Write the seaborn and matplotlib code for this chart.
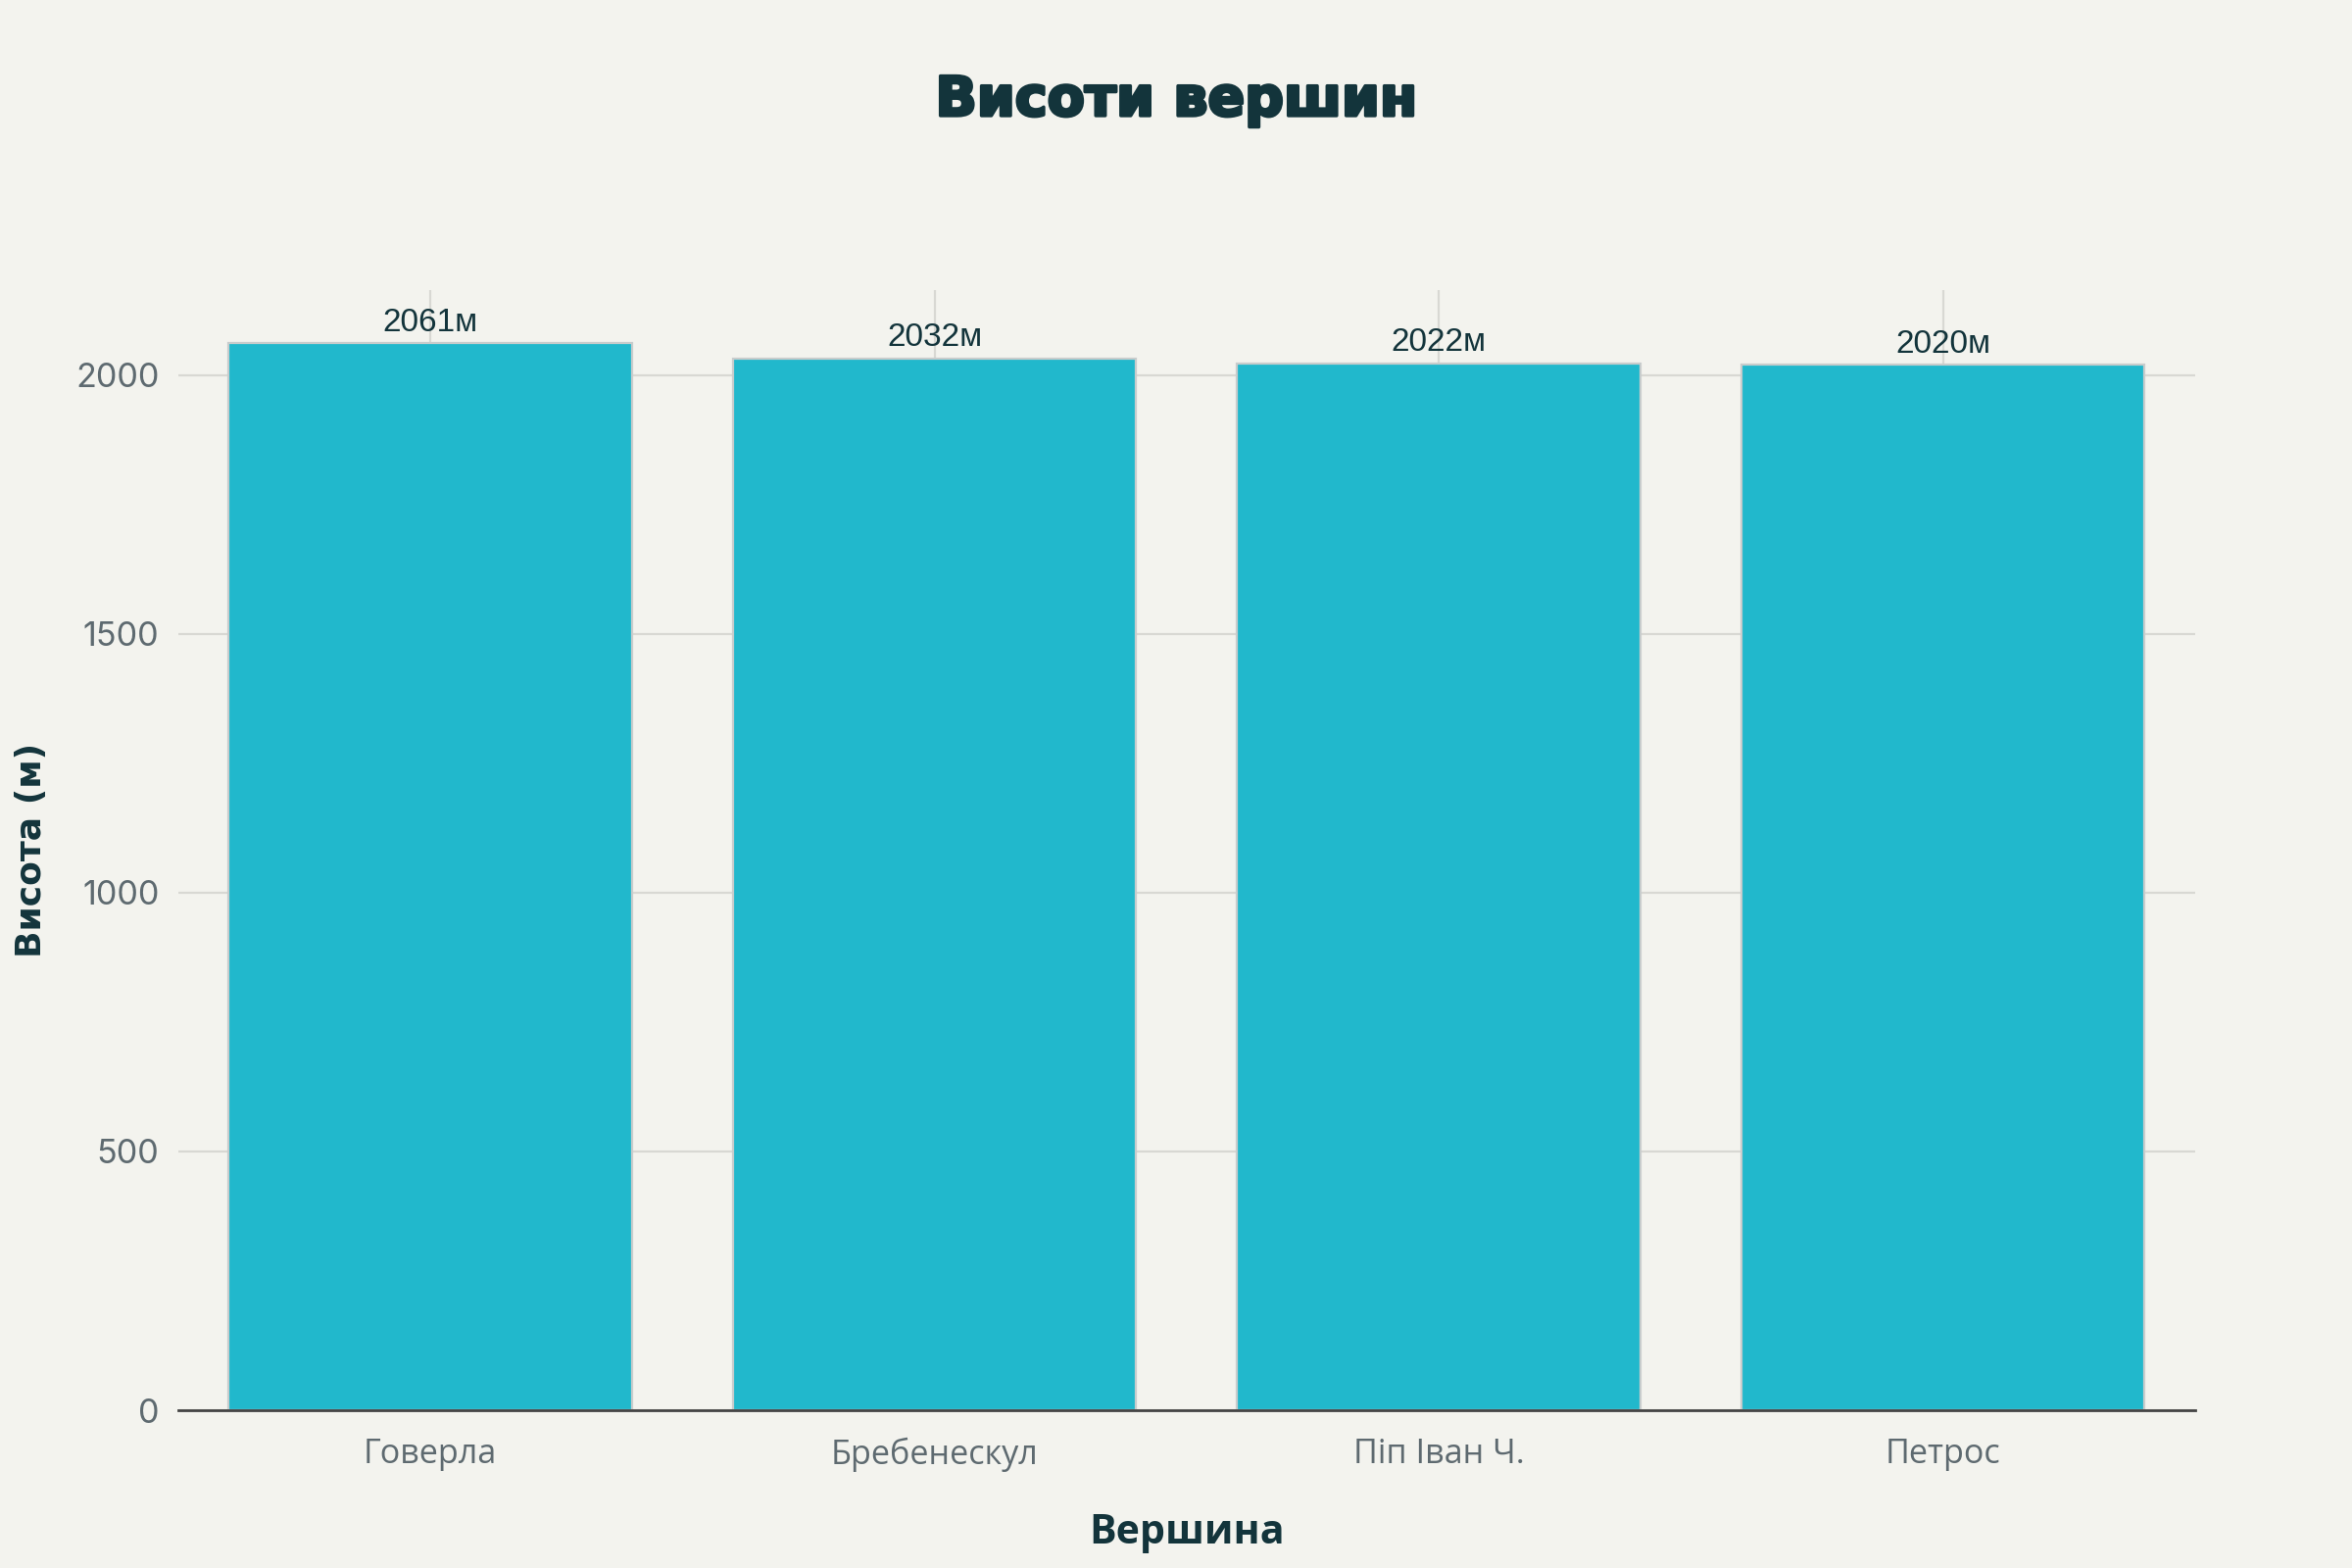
import matplotlib
matplotlib.use("Agg")
import matplotlib.pyplot as plt
import matplotlib.patheffects as pe
import seaborn as sns
import pandas as pd

peaks = ["Говерла", "Бребенескул", "Піп Іван Ч.", "Петрос"]
heights = [2061, 2032, 2022, 2020]

bg = "#F3F3EE"
bar_color = "#21B8CC"
dark = "#13343B"
grey_text = "#5E6A70"
grid_color = "#D8D8D3"

sns.set_theme(style="white")
plt.rcParams["font.family"] = ["Liberation Sans", "DejaVu Sans"]

df = pd.DataFrame({"peak": peaks, "height": heights})

fig = plt.figure(figsize=(12, 8), dpi=200, facecolor=bg)
ax = fig.add_axes([0.0758, 0.1006, 0.8575, 0.7144])
ax.set_facecolor(bg)

sns.barplot(data=df, x="peak", y="height", color=bar_color, saturation=1,
            width=0.8, edgecolor="#C8CCCC", linewidth=0.8, ax=ax, zorder=3)

ax.set_xlim(-0.5, 3.5)
ax.set_ylim(0, max(heights) * 1.05)
ax.set_yticks([0, 500, 1000, 1500, 2000])

ax.grid(True, axis="both", color=grid_color, linewidth=0.8, zorder=0)
ax.set_axisbelow(True)
for s in ["top", "right", "left"]:
    ax.spines[s].set_visible(False)
ax.spines["bottom"].set_color("#444444")
ax.spines["bottom"].set_linewidth(1.0)
ax.spines["bottom"].set_zorder(4)

ax.tick_params(axis="y", length=4, width=0.8, color=grid_color, pad=3,
               labelsize=12.3, labelcolor=grey_text)
ax.tick_params(axis="x", length=5, width=0.8, color=grid_color, pad=5,
               labelsize=12.3, labelcolor=grey_text)
for lbl in ax.get_yticklabels():
    lbl.set_family(["Inter", "DejaVu Sans"])
for lbl in ax.get_xticklabels():
    lbl.set_family(["Open Sans", "DejaVu Sans"])

ax.bar_label(ax.containers[0], labels=[f"{h}м" for h in heights], padding=2,
             fontsize=12, color=dark, family=["Liberation Sans", "DejaVu Sans"])

ax.set_xlabel("Вершина", fontsize=14.8, fontweight="bold", color=dark,
              family=["Open Sans", "DejaVu Sans"], labelpad=15)
ax.set_ylabel("Висота (м)", fontsize=13, fontweight="bold", color=dark,
              family=["DejaVu Sans"], labelpad=10)

fig.text(0.5, 1 - 103 / 1600, "Висоти вершин", ha="center", va="center",
         fontsize=20, fontweight="heavy", color=dark, family=["DejaVu Sans"],
         path_effects=[pe.withStroke(linewidth=1.2, foreground=dark)])

fig.savefig("out.png", dpi=200, facecolor=bg)
